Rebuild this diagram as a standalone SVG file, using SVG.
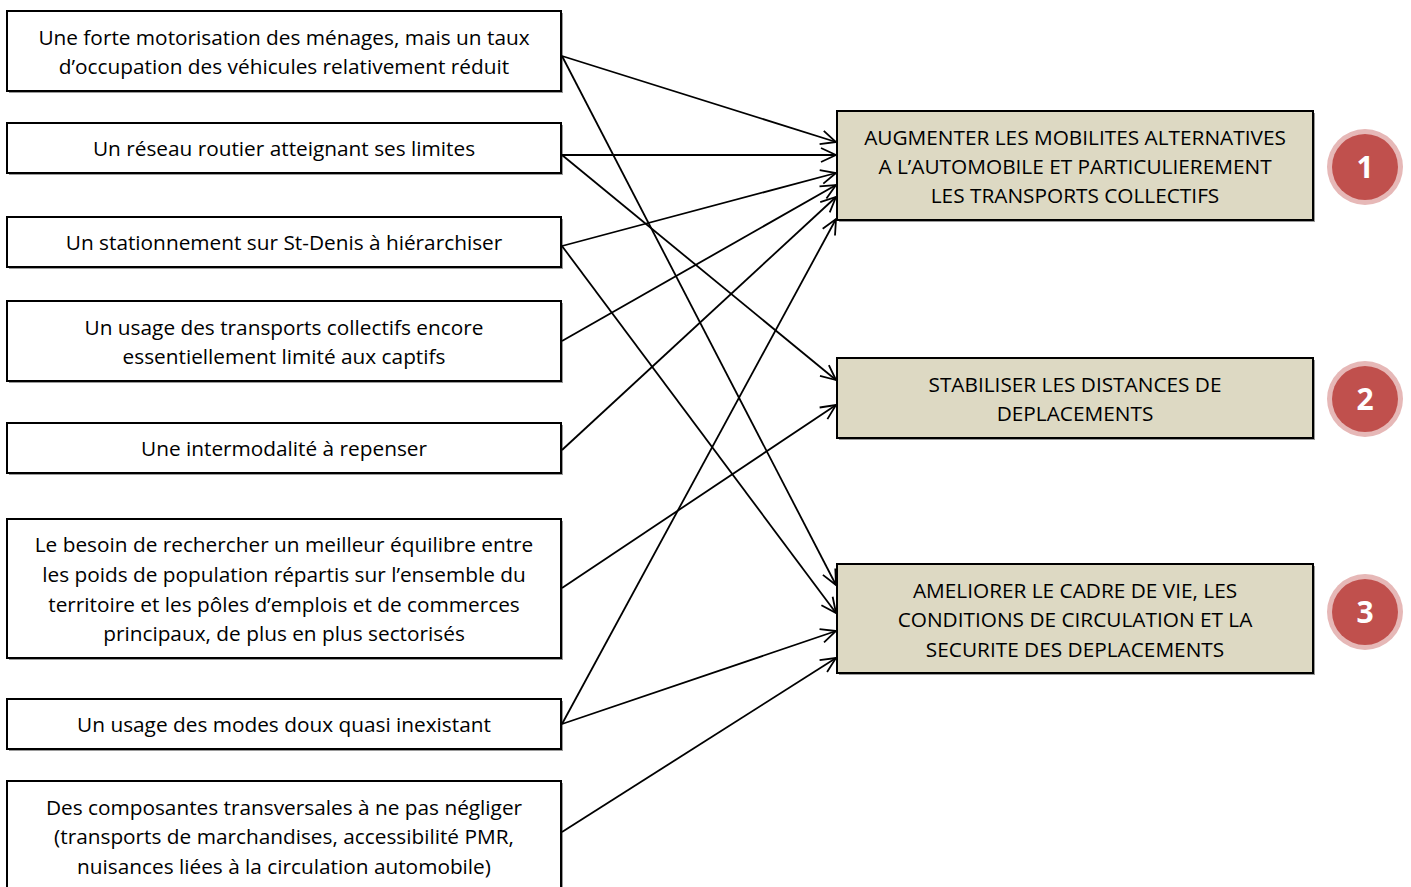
<svg xmlns="http://www.w3.org/2000/svg" width="1411" height="887" viewBox="0 0 1411 887">
<defs>
<marker id="arr" markerWidth="18" markerHeight="18" refX="16" refY="8" orient="auto" markerUnits="userSpaceOnUse">
<path d="M1,1 L16,8 L1,15" fill="none" stroke="#000" stroke-width="1.8"/>
</marker>
</defs>
<style>
.sh{fill:#9a9a9a}
.lb{fill:#fff;stroke:#000;stroke-width:2}
.rb{fill:#DDD9C3;stroke:#000;stroke-width:2}
.t{font-family:"Open Sans",sans-serif;font-size:20.8px;fill:#000;text-anchor:middle}
.c{stroke:#000;stroke-width:1.8;fill:none;marker-end:url(#arr)}
.ring{fill:#E6B8B7}
.dot{fill:#C0504D}
.n{font-family:"Open Sans",sans-serif;font-size:30px;font-weight:bold;fill:#fff;text-anchor:middle}
</style>
<rect width="1411" height="887" fill="#fff"/>
<g id="n1"><rect class="sh" x="9" y="13" width="554" height="80"/><rect class="lb" x="7" y="11" width="554" height="80"/>
<text class="t" x="284" y="45">Une forte motorisation des ménages, mais un taux</text>
<text class="t" x="284" y="74">d’occupation des véhicules relativement réduit</text></g>
<g id="n2"><rect class="sh" x="9" y="125" width="554" height="50"/><rect class="lb" x="7" y="123" width="554" height="50"/>
<text class="t" x="284" y="156">Un réseau routier atteignant ses limites</text></g>
<g id="n3"><rect class="sh" x="9" y="219" width="554" height="50"/><rect class="lb" x="7" y="217" width="554" height="50"/>
<text class="t" x="284" y="250">Un stationnement sur St-Denis à hiérarchiser</text></g>
<g id="n4"><rect class="sh" x="9" y="303" width="554" height="80"/><rect class="lb" x="7" y="301" width="554" height="80"/>
<text class="t" x="284" y="335">Un usage des transports collectifs encore</text>
<text class="t" x="284" y="364">essentiellement limité aux captifs</text></g>
<g id="n5"><rect class="sh" x="9" y="425" width="554" height="50"/><rect class="lb" x="7" y="423" width="554" height="50"/>
<text class="t" x="284" y="456">Une intermodalité à repenser</text></g>
<g id="n6"><rect class="sh" x="9" y="521" width="554" height="139"/><rect class="lb" x="7" y="519" width="554" height="139"/>
<text class="t" x="284" y="552">Le besoin de rechercher un meilleur équilibre entre</text>
<text class="t" x="284" y="582">les poids de population répartis sur l’ensemble du</text>
<text class="t" x="284" y="612">territoire et les pôles d’emplois et de commerces</text>
<text class="t" x="284" y="641">principaux, de plus en plus sectorisés</text></g>
<g id="n7"><rect class="sh" x="9" y="701" width="554" height="50"/><rect class="lb" x="7" y="699" width="554" height="50"/>
<text class="t" x="284" y="732">Un usage des modes doux quasi inexistant</text></g>
<g id="n8"><rect class="sh" x="9" y="783" width="554" height="110"/><rect class="lb" x="7" y="781" width="554" height="110"/>
<text class="t" x="284" y="815">Des composantes transversales à ne pas négliger</text>
<text class="t" x="284" y="844">(transports de marchandises, accessibilité PMR,</text>
<text class="t" x="284" y="874">nuisances liées à la circulation automobile)</text></g>
<g id="o1"><rect class="sh" x="839" y="113" width="476" height="109"/><rect class="rb" x="837" y="111" width="476" height="109"/>
<text class="t" x="1075" y="145">AUGMENTER LES MOBILITES ALTERNATIVES</text>
<text class="t" x="1075" y="174">A L’AUTOMOBILE ET PARTICULIEREMENT</text>
<text class="t" x="1075" y="203">LES TRANSPORTS COLLECTIFS</text></g>
<g id="o2"><rect class="sh" x="839" y="360" width="476" height="80"/><rect class="rb" x="837" y="358" width="476" height="80"/>
<text class="t" x="1075" y="392">STABILISER LES DISTANCES DE</text>
<text class="t" x="1075" y="421">DEPLACEMENTS</text></g>
<g id="o3"><rect class="sh" x="839" y="566" width="476" height="109"/><rect class="rb" x="837" y="564" width="476" height="109"/>
<text class="t" x="1075" y="598">AMELIORER LE CADRE DE VIE, LES</text>
<text class="t" x="1075" y="627">CONDITIONS DE CIRCULATION ET LA</text>
<text class="t" x="1075" y="657">SECURITE DES DEPLACEMENTS</text></g>
<g id="b1"><circle class="ring" cx="1365" cy="167" r="38"/><circle class="dot" cx="1365" cy="167" r="33"/><text class="n" x="1365" y="178">1</text></g>
<g id="b2"><circle class="ring" cx="1365" cy="399" r="38"/><circle class="dot" cx="1365" cy="399" r="33"/><text class="n" x="1365" y="410">2</text></g>
<g id="b3"><circle class="ring" cx="1365" cy="612" r="38"/><circle class="dot" cx="1365" cy="612" r="33"/><text class="n" x="1365" y="623">3</text></g>
<g id="connectors">
<line class="c" x1="562" y1="56" x2="836" y2="142"/>
<line class="c" x1="562" y1="56" x2="836" y2="585"/>
<line class="c" x1="562" y1="155" x2="836" y2="155"/>
<line class="c" x1="562" y1="155" x2="836" y2="380"/>
<line class="c" x1="562" y1="246" x2="836" y2="173"/>
<line class="c" x1="562" y1="246" x2="836" y2="613"/>
<line class="c" x1="562" y1="341" x2="836" y2="185"/>
<line class="c" x1="562" y1="450" x2="836" y2="197"/>
<line class="c" x1="562" y1="588" x2="836" y2="405"/>
<line class="c" x1="562" y1="724" x2="836" y2="219"/>
<line class="c" x1="562" y1="724" x2="836" y2="631"/>
<line class="c" x1="562" y1="832" x2="836" y2="658"/>
</g>
</svg>
